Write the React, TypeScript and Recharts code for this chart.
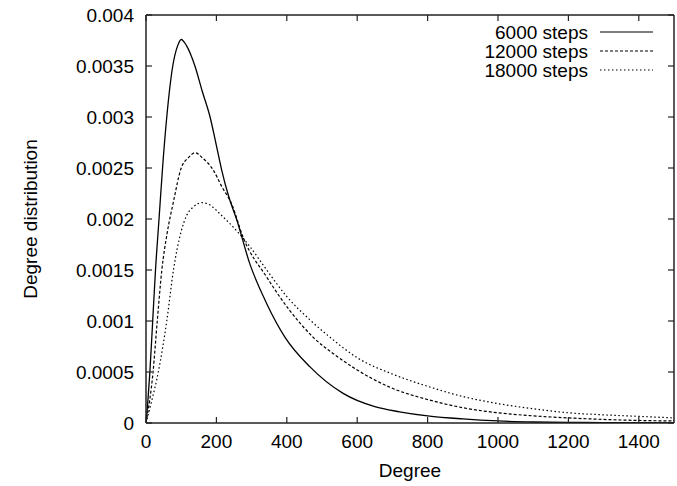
import React from 'react';
import { LineChart, Line, XAxis, YAxis, Label } from 'recharts';

const FONT = '"Liberation Sans", Arial, Helvetica, sans-serif';

const xTicks = [0, 200, 400, 600, 800, 1000, 1200, 1400];
const yTicks = [0, 0.0005, 0.001, 0.0015, 0.002, 0.0025, 0.003, 0.0035, 0.004];

const seriesNames = ['6000 steps', '12000 steps', '18000 steps'];

const deg6000 = [0, 5, 11, 19, 27, 37, 47, 59, 76, 90, 100, 115, 139, 160, 182, 200, 215, 235, 258, 295, 343, 395, 466, 560, 650, 720, 800, 900, 1000, 1100, 1200, 1300, 1500];
const val6000 = [0, 0.0002, 0.0005, 0.001, 0.0015, 0.002, 0.0025, 0.003, 0.0035, 0.0037, 0.00376, 0.0037, 0.0035, 0.00325, 0.003, 0.00272, 0.00248, 0.00222, 0.00199, 0.00156, 0.00117, 0.00084, 0.00055, 0.00029, 0.00016, 0.00011, 0.00007, 0.00004, 0.00002, 0.00001, 0.000006, 0.000004, 0.000002];

const deg12000 = [0, 20, 32, 45, 60, 78, 100, 120, 140, 160, 191, 215, 243, 276, 343, 409, 475, 540, 600, 700, 800, 900, 1000, 1100, 1200, 1300, 1400, 1500];
const val12000 = [0, 0.0005, 0.001, 0.0015, 0.00186, 0.00217, 0.0025, 0.0026, 0.00265, 0.0026, 0.00248, 0.00232, 0.00215, 0.00182, 0.00143, 0.0011, 0.00084, 0.00066, 0.00052, 0.00034, 0.00023, 0.00015, 0.0001, 0.00007, 0.00005, 0.000035, 0.000025, 0.00002];

const deg18000 = [0, 15, 35, 59, 78, 100, 115, 135, 160, 185, 210, 248, 295, 343, 400, 466, 523, 600, 700, 800, 900, 1000, 1100, 1200, 1300, 1400, 1500];
const val18000 = [0, 0.0002, 0.0005, 0.001, 0.0015, 0.00188, 0.00203, 0.00212, 0.00216, 0.00213, 0.00205, 0.00192, 0.00173, 0.0015, 0.00124, 0.00101, 0.00084, 0.00064, 0.00048, 0.00036, 0.00026, 0.00019, 0.00014, 0.0001, 0.00008, 0.000065, 0.00005];

const dashes = [undefined, '3 2', '1.5 2.5'];

const toPoints = (xs: number[], ys: number[]) => xs.map((x, i) => ({ x, y: ys[i] }));

const series = [
  toPoints(deg6000, val6000),
  toPoints(deg12000, val12000),
  toPoints(deg18000, val18000),
];

const AXIS = '#222';

const tickStyle = { fill: '#000', fontSize: 19, fontFamily: FONT };

export default function App() {
  return (
    <div style={{ position: 'absolute', left: 0, top: 0, width: 677, height: 486, background: '#fff' }}>
      <LineChart width={677} height={486} margin={{ top: 0, right: 0, bottom: 0, left: 0 }}>
        <XAxis
          xAxisId="b"
          dataKey="x"
          type="number"
          domain={[0, 1500]}
          ticks={xTicks}
          allowDataOverflow
          height={63}
          tickSize={-6}
          tickMargin={18}
          tick={tickStyle}
          axisLine={{ stroke: AXIS, strokeWidth: 1.5 }}
          tickLine={{ stroke: AXIS, strokeWidth: 1.2 }}
        >
          <Label
            value="Degree"
            position="insideBottom"
            offset={9}
            style={{ fill: '#000', fontSize: 19, fontFamily: FONT }}
          />
        </XAxis>
        <XAxis
          xAxisId="t"
          orientation="top"
          dataKey="x"
          type="number"
          domain={[0, 1500]}
          ticks={xTicks}
          allowDataOverflow
          height={15}
          tickSize={-6}
          tickFormatter={() => ''}
          axisLine={{ stroke: AXIS, strokeWidth: 1.5 }}
          tickLine={{ stroke: AXIS, strokeWidth: 1.2 }}
        />
        <YAxis
          yAxisId="l"
          type="number"
          domain={[0, 0.004]}
          ticks={yTicks}
          allowDataOverflow
          width={146}
          tickSize={-6}
          tickMargin={18}
          tick={tickStyle}
          axisLine={{ stroke: AXIS, strokeWidth: 1.5 }}
          tickLine={{ stroke: AXIS, strokeWidth: 1.2 }}
        >
          <Label
            content={(props: any) => {
              const vb = props.viewBox || { x: 0, y: 15, width: 146, height: 408 };
              const cx = vb.x + 30;
              const cy = vb.y + vb.height / 2;
              return (
                <text
                  x={cx}
                  y={cy}
                  transform={`rotate(-90, ${cx}, ${cy})`}
                  textAnchor="middle"
                  dominantBaseline="central"
                  style={{ fill: '#000', fontSize: 19, fontFamily: FONT }}
                >
                  Degree distribution
                </text>
              );
            }}
          />
        </YAxis>
        <YAxis
          yAxisId="r"
          orientation="right"
          type="number"
          domain={[0, 0.004]}
          ticks={yTicks}
          allowDataOverflow
          width={3}
          tickSize={-6}
          tickFormatter={() => ''}
          axisLine={{ stroke: AXIS, strokeWidth: 1.5 }}
          tickLine={{ stroke: AXIS, strokeWidth: 1.2 }}
        />
        {series.map((d, i) => (
          <Line
            key={seriesNames[i]}
            name={seriesNames[i]}
            data={d}
            dataKey="y"
            xAxisId="b"
            yAxisId="l"
            type="monotone"
            stroke="#000"
            strokeWidth={i === 0 ? 1.3 : 1.2}
            strokeDasharray={dashes[i]}
            dot={false}
            activeDot={false}
            isAnimationActive={false}
          />
        ))}
      </LineChart>
      <svg width={677} height={486} style={{ position: 'absolute', left: 0, top: 0, pointerEvents: 'none' }}>
        {seriesNames.map((n, i) => (
          <g key={n}>
            <text x={588} y={38.5 + i * 19} textAnchor="end" style={{ fill: '#000', fontSize: 19, fontFamily: FONT }}>
              {n}
            </text>
            <line x1={600} x2={653} y1={32 + i * 19} y2={32 + i * 19} stroke="#000" strokeWidth={1.2} strokeDasharray={dashes[i]} />
          </g>
        ))}
      </svg>
    </div>
  );
}
